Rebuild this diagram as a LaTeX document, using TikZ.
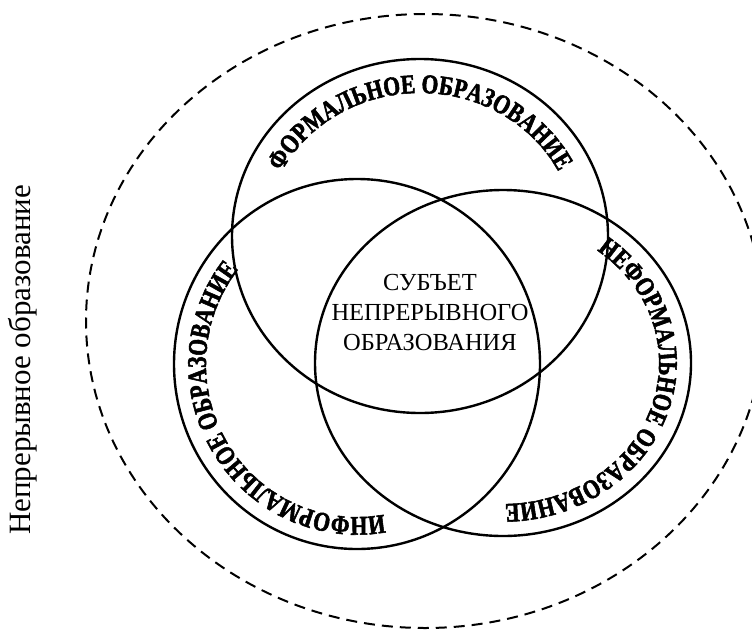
\documentclass[tikz,border=0pt]{standalone}
\usepackage{fontspec}
\setmainfont{Liberation Serif}
\newfontfamily\arcfam[FakeStretch=0.8, FakeBold=2]{Liberation Serif}
\usetikzlibrary{decorations.text}
\newcommand{\arcfont}{\arcfam\bfseries\fontsize{27pt}{27pt}\selectfont}
\tikzset{
  circ/.style={line width=2.4pt},
  arctext/.style={decorate, decoration={text along path, text align=center, text={|\arcfont|#1}}}
}
\begin{document}
\begin{tikzpicture}[x=1pt, y=-1pt]
  \useasboundingbox (0,0) rectangle (752,632);
  \coordinate (outer) at (425,321);
  \coordinate (formal) at (420,236);
  \coordinate (informal) at (357,364);
  \coordinate (nonformal) at (503,363);
  \draw[line width=2pt, dash pattern=on 11pt off 7pt] (outer) ellipse [x radius=339, y radius=307];
  \draw[circ] (formal) ellipse [x radius=188, y radius=177];
  \draw[circ] (informal) ellipse [x radius=183, y radius=185];
  \draw[circ] (nonformal) ellipse [x radius=188, y radius=173];
  \path[arctext={ФОРМАЛЬНОЕ ОБРАЗОВАНИЕ}] (formal) ++(180:155 and 143)
    arc [start angle=180, end angle=360, x radius=155, y radius=143];
  \path[arctext={НЕФОРМАЛЬНОЕ ОБРАЗОВАНИЕ}] (nonformal) ++(-72:156 and 141)
    arc [start angle=-72, end angle=108, x radius=156, y radius=141];
  \path[arctext={ИНФОРМАЛЬНОЕ ОБРАЗОВАНИЕ}] (informal) ++(59:151 and 153)
    arc [start angle=59, end angle=239, x radius=151, y radius=153];
  \node[align=center, font=\fontsize{24.5pt}{30pt}\selectfont] (subject) at (430,313)
    {СУБЪЕТ\\НЕПРЕРЫВНОГО\\ОБРАЗОВАНИЯ};
  \node[rotate=90, font=\fontsize{31pt}{31pt}\selectfont] (lifelong) at (23,360)
    {Непрерывное образование};
\end{tikzpicture}
\end{document}
